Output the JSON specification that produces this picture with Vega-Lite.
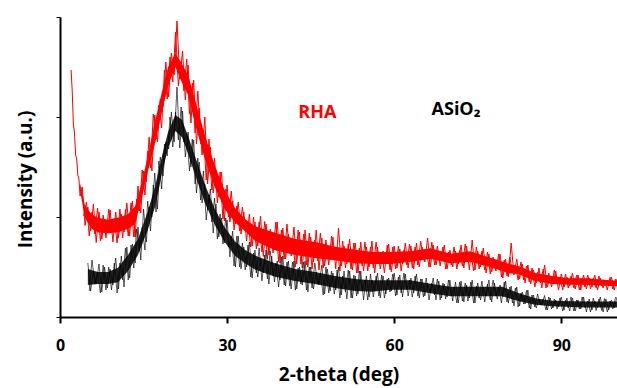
{
  "$schema": "https://vega.github.io/schema/vega-lite/v6.json",
  "width": 557,
  "height": 300,
  "autosize": {"type": "none"},
  "padding": {"left": 60, "top": 17, "right": 0, "bottom": 71},
  "background": "white",
  "config": {"view": {"stroke": null}, "font": "Open Sans"},
  "datasets": {
    "rha": [
      {"x":2.0,"y":2470},{"x":2.2,"y":2250},{"x":2.4,"y":1930},{"x":2.6,"y":1840},{"x":2.8,"y":1620},{"x":3.0,"y":1580},{"x":3.2,"y":1420},{"x":3.4,"y":1380},{"x":3.6,"y":1210},
      {"x":4.0,"y":1300},{"x":4.5,"y":915},{"x":5.0,"y":1100},{"x":5.5,"y":860},{"x":6.0,"y":1130},{"x":6.5,"y":745},{"x":7.0,"y":1050},{"x":7.5,"y":780},{"x":8.0,"y":980},{"x":8.5,"y":840},{"x":9.0,"y":1070},{"x":9.5,"y":750},{"x":10.0,"y":1050},{"x":10.5,"y":790},{"x":11.0,"y":1030},{"x":11.5,"y":850},{"x":12.0,"y":1140},{"x":12.5,"y":810},{"x":13.0,"y":1160},{"x":13.5,"y":800},{"x":14.0,"y":1310},{"x":14.5,"y":1040},{"x":15.0,"y":1460},{"x":15.5,"y":1350},{"x":16.0,"y":1800},{"x":16.5,"y":1460},{"x":17.0,"y":2020},{"x":17.5,"y":1750},{"x":18.0,"y":2180},{"x":18.5,"y":2100},{"x":19.0,"y":2550},{"x":19.5,"y":2200},{"x":20.0,"y":2640},{"x":20.5,"y":2420},{"x":21.0,"y":2960},{"x":21.5,"y":2380},{"x":22.0,"y":2660},{"x":22.5,"y":2170},{"x":23.0,"y":2520},{"x":23.5,"y":1940},{"x":24.0,"y":2370},{"x":24.5,"y":1730},{"x":25.0,"y":2090},{"x":25.5,"y":1620},{"x":26.0,"y":2000},{"x":26.5,"y":1330},{"x":27.0,"y":1700},{"x":27.5,"y":1240},{"x":28.0,"y":1470},{"x":28.5,"y":1200},{"x":29.0,"y":1450},{"x":29.5,"y":960},{"x":30.0,"y":1320},{"x":30.5,"y":950},{"x":31.0,"y":1160},{"x":31.5,"y":930},{"x":32.0,"y":1150},{"x":32.5,"y":830},{"x":33.0,"y":1050},{"x":33.5,"y":760},{"x":34.0,"y":1030},{"x":34.5,"y":710},{"x":35.0,"y":950},{"x":35.5,"y":710},{"x":36.0,"y":1010},{"x":36.5,"y":605},{"x":37.0,"y":930},{"x":37.5,"y":620},{"x":38.0,"y":850},{"x":38.5,"y":670},{"x":39.0,"y":950},{"x":39.5,"y":540},{"x":40.0,"y":890},{"x":40.5,"y":580},{"x":41.0,"y":830},{"x":41.5,"y":610},{"x":42.0,"y":900},{"x":42.5,"y":530},{"x":43.0,"y":850},{"x":43.5,"y":490},{"x":44.0,"y":870},{"x":44.5,"y":500},{"x":45.0,"y":800},{"x":45.5,"y":550},{"x":46.0,"y":870},{"x":46.5,"y":470},{"x":47.0,"y":790},{"x":47.5,"y":510},{"x":48.0,"y":720},{"x":48.5,"y":570},{"x":49.0,"y":800},{"x":49.5,"y":480},{"x":50.0,"y":890},{"x":50.5,"y":510},{"x":51.0,"y":710},{"x":51.5,"y":530},{"x":52.0,"y":780},{"x":52.5,"y":470},{"x":53.0,"y":740},{"x":53.5,"y":440},{"x":54.0,"y":750},{"x":54.5,"y":460},{"x":55.0,"y":700},{"x":55.5,"y":500},{"x":56.0,"y":760},{"x":56.5,"y":440},{"x":57.0,"y":700},{"x":57.5,"y":480},{"x":58.0,"y":660},{"x":58.5,"y":530},{"x":59.0,"y":730},{"x":59.5,"y":450},{"x":60.0,"y":710},{"x":60.5,"y":490},{"x":61.0,"y":680},{"x":61.5,"y":530},{"x":62.0,"y":740},{"x":62.5,"y":490},{"x":63.0,"y":710},{"x":63.5,"y":480},{"x":64.0,"y":740},{"x":64.5,"y":500},{"x":65.0,"y":700},{"x":65.5,"y":550},{"x":66.0,"y":790},{"x":66.5,"y":500},{"x":67.0,"y":720},{"x":67.5,"y":520},{"x":68.0,"y":660},{"x":68.5,"y":560},{"x":69.0,"y":720},{"x":69.5,"y":480},{"x":70.0,"y":670},{"x":70.5,"y":500},{"x":71.0,"y":660},{"x":71.5,"y":530},{"x":72.0,"y":720},{"x":72.5,"y":490},{"x":73.0,"y":710},{"x":73.5,"y":470},{"x":74.0,"y":770},{"x":74.5,"y":470},{"x":75.0,"y":660},{"x":75.5,"y":500},{"x":76.0,"y":690},{"x":76.5,"y":440},{"x":77.0,"y":630},{"x":77.5,"y":450},{"x":78.0,"y":580},{"x":78.5,"y":480},{"x":79.0,"y":630},{"x":79.5,"y":390},{"x":80.0,"y":580},{"x":80.5,"y":400},{"x":81.0,"y":740},{"x":81.5,"y":420},{"x":82.0,"y":580},{"x":82.5,"y":380},{"x":83.0,"y":530},{"x":83.5,"y":340},{"x":84.0,"y":520},{"x":84.5,"y":330},{"x":85.0,"y":470},{"x":85.5,"y":340},{"x":86.0,"y":490},{"x":86.5,"y":290},{"x":87.0,"y":520},{"x":87.5,"y":300},{"x":88.0,"y":410},{"x":88.5,"y":330},{"x":89.0,"y":460},{"x":89.5,"y":270},{"x":90.0,"y":430},{"x":90.5,"y":300},{"x":91.0,"y":400},{"x":91.5,"y":310},{"x":92.0,"y":440},{"x":92.5,"y":280},{"x":93.0,"y":420},{"x":93.5,"y":270},{"x":94.0,"y":420},{"x":94.5,"y":280},{"x":95.0,"y":390},{"x":95.5,"y":300},{"x":96.0,"y":420},{"x":96.5,"y":270},{"x":97.0,"y":390},{"x":97.5,"y":290},{"x":98.0,"y":370},{"x":98.5,"y":310},{"x":99.0,"y":400},{"x":99.5,"y":270},{"x":100.0,"y":380}
    ],
    "rha2": [
      {"x":4.25,"y":1010},{"x":4.75,"y":1150},{"x":5.25,"y":810},{"x":5.75,"y":1050},{"x":6.25,"y":830},{"x":6.75,"y":1090},{"x":7.25,"y":760},{"x":7.75,"y":1020},{"x":8.25,"y":790},{"x":8.75,"y":1080},{"x":9.25,"y":840},{"x":9.75,"y":985},{"x":10.25,"y":740},{"x":10.75,"y":1080},{"x":11.25,"y":790},{"x":11.75,"y":1075},{"x":12.25,"y":810},{"x":12.75,"y":1140},{"x":13.25,"y":800},{"x":13.75,"y":1180},{"x":14.25,"y":1060},{"x":14.75,"y":1470},{"x":15.25,"y":1220},{"x":15.75,"y":1660},{"x":16.25,"y":1490},{"x":16.75,"y":2030},{"x":17.25,"y":1780},{"x":17.75,"y":2120},{"x":18.25,"y":1890},{"x":18.75,"y":2470},{"x":19.25,"y":2180},{"x":19.75,"y":2600},{"x":20.25,"y":2350},{"x":20.75,"y":2850},{"x":21.25,"y":2310},{"x":21.75,"y":2560},{"x":22.25,"y":2260},{"x":22.75,"y":2580},{"x":23.25,"y":2030},{"x":23.75,"y":2340},{"x":24.25,"y":1840},{"x":24.75,"y":2260},{"x":25.25,"y":1730},{"x":25.75,"y":1870},{"x":26.25,"y":1370},{"x":26.75,"y":1780},{"x":27.25,"y":1270},{"x":27.75,"y":1590},{"x":28.25,"y":1140},{"x":28.75,"y":1450},{"x":29.25,"y":980},{"x":29.75,"y":1280},{"x":30.25,"y":1000},{"x":30.75,"y":1260},{"x":31.25,"y":870},{"x":31.75,"y":1110},{"x":32.25,"y":860},{"x":32.75,"y":1100},{"x":33.25,"y":860},{"x":33.75,"y":960},{"x":34.25,"y":700},{"x":34.75,"y":1000},{"x":35.25,"y":680},{"x":35.75,"y":950},{"x":36.25,"y":650},{"x":36.75,"y":955},{"x":37.25,"y":580},{"x":37.75,"y":880},{"x":38.25,"y":640},{"x":38.75,"y":950},{"x":39.25,"y":550},{"x":39.75,"y":870},{"x":40.25,"y":580},{"x":40.75,"y":930},{"x":41.25,"y":630},{"x":41.75,"y":790},{"x":42.25,"y":500},{"x":42.75,"y":870},{"x":43.25,"y":530},{"x":43.75,"y":830},{"x":44.25,"y":520},{"x":44.75,"y":840},{"x":45.25,"y":480},{"x":45.75,"y":770},{"x":46.25,"y":560},{"x":46.75,"y":840},{"x":47.25,"y":490},{"x":47.75,"y":770},{"x":48.25,"y":520},{"x":48.75,"y":810},{"x":49.25,"y":570},{"x":49.75,"y":700},{"x":50.25,"y":460},{"x":50.75,"y":760},{"x":51.25,"y":490},{"x":51.75,"y":730},{"x":52.25,"y":480},{"x":52.75,"y":740},{"x":53.25,"y":440},{"x":53.75,"y":690},{"x":54.25,"y":510},{"x":54.75,"y":750},{"x":55.25,"y":460},{"x":55.75,"y":700},{"x":56.25,"y":490},{"x":56.75,"y":750},{"x":57.25,"y":530},{"x":57.75,"y":650},{"x":58.25,"y":440},{"x":58.75,"y":720},{"x":59.25,"y":470},{"x":59.75,"y":700},{"x":60.25,"y":480},{"x":60.75,"y":710},{"x":61.25,"y":460},{"x":61.75,"y":670},{"x":62.25,"y":520},{"x":62.75,"y":730},{"x":63.25,"y":490},{"x":63.75,"y":700},{"x":64.25,"y":520},{"x":64.75,"y":760},{"x":65.25,"y":570},{"x":65.75,"y":680},{"x":66.25,"y":500},{"x":66.75,"y":750},{"x":67.25,"y":520},{"x":67.75,"y":710},{"x":68.25,"y":510},{"x":68.75,"y":700},{"x":69.25,"y":480},{"x":69.75,"y":650},{"x":70.25,"y":520},{"x":70.75,"y":700},{"x":71.25,"y":480},{"x":71.75,"y":670},{"x":72.25,"y":510},{"x":72.75,"y":730},{"x":73.25,"y":550},{"x":73.75,"y":650},{"x":74.25,"y":460},{"x":74.75,"y":700},{"x":75.25,"y":480},{"x":75.75,"y":660},{"x":76.25,"y":470},{"x":76.75,"y":650},{"x":77.25,"y":430},{"x":77.75,"y":600},{"x":78.25,"y":460},{"x":78.75,"y":630},{"x":79.25,"y":400},{"x":79.75,"y":570},{"x":80.25,"y":410},{"x":80.75,"y":600},{"x":81.25,"y":440},{"x":81.75,"y":520},{"x":82.25,"y":370},{"x":82.75,"y":550},{"x":83.25,"y":370},{"x":83.75,"y":510},{"x":84.25,"y":350},{"x":84.75,"y":490},{"x":85.25,"y":300},{"x":85.75,"y":450},{"x":86.25,"y":340},{"x":86.75,"y":480},{"x":87.25,"y":290},{"x":87.75,"y":440},{"x":88.25,"y":300},{"x":88.75,"y":470},{"x":89.25,"y":330},{"x":89.75,"y":400},{"x":90.25,"y":270},{"x":90.75,"y":430},{"x":91.25,"y":290},{"x":91.75,"y":410},{"x":92.25,"y":290},{"x":92.75,"y":420},{"x":93.25,"y":270},{"x":93.75,"y":390},{"x":94.25,"y":300},{"x":94.75,"y":420},{"x":95.25,"y":280},{"x":95.75,"y":390},{"x":96.25,"y":290},{"x":96.75,"y":410},{"x":97.25,"y":310},{"x":97.75,"y":370},{"x":98.25,"y":270},{"x":98.75,"y":395},{"x":99.25,"y":280},{"x":99.75,"y":380}
    ],
    "rhaBand": [
      {"x":3.6,"lo":1260,"hi":1340},{"x":4.5,"lo":990,"hi":1110},{"x":5.7,"lo":882,"hi":1028},{"x":6.8,"lo":847,"hi":993},{"x":8.6,"lo":838,"hi":972},{"x":10.4,"lo":847,"hi":993},{"x":12.2,"lo":882,"hi":1028},{"x":13.5,"lo":933,"hi":1107},{"x":14.7,"lo":1190,"hi":1350},{"x":15.8,"lo":1460,"hi":1620},{"x":17.1,"lo":1742,"hi":1968},{"x":18.3,"lo":2050,"hi":2250},{"x":19.4,"lo":2312,"hi":2498},{"x":20.7,"lo":2503,"hi":2637},{"x":21.9,"lo":2342,"hi":2528},{"x":23.0,"lo":2220,"hi":2420},{"x":24.3,"lo":1920,"hi":2160},{"x":26.0,"lo":1580,"hi":1820},{"x":27.8,"lo":1298,"hi":1512},{"x":29.6,"lo":1077,"hi":1263},{"x":31.4,"lo":947,"hi":1093},{"x":33.2,"lo":860,"hi":980},{"x":35.0,"lo":762,"hi":908},{"x":38.6,"lo":668,"hi":842},{"x":42.2,"lo":620,"hi":780},{"x":45.8,"lo":590,"hi":750},{"x":49.4,"lo":568,"hi":702},{"x":53.0,"lo":538,"hi":672},{"x":56.0,"lo":530,"hi":650},{"x":59.3,"lo":530,"hi":650},{"x":62.9,"lo":552,"hi":658},{"x":66.5,"lo":582,"hi":688},{"x":70.1,"lo":538,"hi":632},{"x":73.6,"lo":552,"hi":658},{"x":76.7,"lo":508,"hi":602},{"x":78.7,"lo":473,"hi":567},{"x":80.5,"lo":438,"hi":532},{"x":82.3,"lo":430,"hi":510},{"x":85.3,"lo":360,"hi":440},{"x":88.4,"lo":330,"hi":410},{"x":91.3,"lo":322,"hi":388},{"x":94.3,"lo":322,"hi":388},{"x":100.0,"lo":308,"hi":362}
    ],
    "asio2": [
      {"x":5.0,"y":540},{"x":5.5,"y":260},{"x":6.0,"y":460},{"x":6.5,"y":330},{"x":7.0,"y":530},{"x":7.5,"y":250},{"x":8.0,"y":500},{"x":8.5,"y":290},{"x":9.0,"y":480},{"x":9.5,"y":320},{"x":10.0,"y":590},{"x":10.5,"y":280},{"x":11.0,"y":610},{"x":11.5,"y":300},{"x":12.0,"y":700},{"x":12.5,"y":390},{"x":13.0,"y":730},{"x":13.5,"y":540},{"x":14.0,"y":900},{"x":14.5,"y":570},{"x":15.0,"y":1080},{"x":15.5,"y":750},{"x":16.0,"y":1100},{"x":16.5,"y":1000},{"x":17.0,"y":1440},{"x":17.5,"y":1080},{"x":18.0,"y":1600},{"x":18.5,"y":1410},{"x":19.0,"y":1750},{"x":19.5,"y":1680},{"x":20.0,"y":2050},{"x":20.5,"y":1750},{"x":21.0,"y":2300},{"x":21.5,"y":1690},{"x":22.0,"y":2060},{"x":22.5,"y":1600},{"x":23.0,"y":1850},{"x":23.5,"y":1500},{"x":24.0,"y":1770},{"x":24.5,"y":1240},{"x":25.0,"y":1550},{"x":25.5,"y":1140},{"x":26.0,"y":1330},{"x":26.5,"y":1070},{"x":27.0,"y":1280},{"x":27.5,"y":840},{"x":28.0,"y":1130},{"x":28.5,"y":800},{"x":29.0,"y":990},{"x":29.5,"y":740},{"x":30.0,"y":970},{"x":30.5,"y":600},{"x":31.0,"y":860},{"x":31.5,"y":500},{"x":32.0,"y":810},{"x":32.5,"y":480},{"x":33.0,"y":700},{"x":33.5,"y":500},{"x":34.0,"y":750},{"x":34.5,"y":390},{"x":35.0,"y":670},{"x":35.5,"y":400},{"x":36.0,"y":590},{"x":36.5,"y":440},{"x":37.0,"y":670},{"x":37.5,"y":330},{"x":38.0,"y":610},{"x":38.5,"y":350},{"x":39.0,"y":560},{"x":39.5,"y":370},{"x":40.0,"y":610},{"x":40.5,"y":310},{"x":41.0,"y":560},{"x":41.5,"y":280},{"x":42.0,"y":560},{"x":42.5,"y":280},{"x":43.0,"y":500},{"x":43.5,"y":320},{"x":44.0,"y":560},{"x":44.5,"y":250},{"x":45.0,"y":500},{"x":45.5,"y":280},{"x":46.0,"y":450},{"x":46.5,"y":320},{"x":47.0,"y":520},{"x":47.5,"y":230},{"x":48.0,"y":480},{"x":48.5,"y":260},{"x":49.0,"y":440},{"x":49.5,"y":270},{"x":50.0,"y":500},{"x":50.5,"y":220},{"x":51.0,"y":460},{"x":51.5,"y":180},{"x":52.0,"y":460},{"x":52.5,"y":190},{"x":53.0,"y":410},{"x":53.5,"y":230},{"x":54.0,"y":460},{"x":54.5,"y":170},{"x":55.0,"y":410},{"x":55.5,"y":200},{"x":56.0,"y":370},{"x":56.5,"y":260},{"x":57.0,"y":440},{"x":57.5,"y":190},{"x":58.0,"y":410},{"x":58.5,"y":230},{"x":59.0,"y":390},{"x":59.5,"y":260},{"x":60.0,"y":440},{"x":60.5,"y":220},{"x":61.0,"y":420},{"x":61.5,"y":200},{"x":62.0,"y":430},{"x":62.5,"y":210},{"x":63.0,"y":390},{"x":63.5,"y":240},{"x":64.0,"y":430},{"x":64.5,"y":190},{"x":65.0,"y":380},{"x":65.5,"y":210},{"x":66.0,"y":340},{"x":66.5,"y":240},{"x":67.0,"y":390},{"x":67.5,"y":170},{"x":68.0,"y":360},{"x":68.5,"y":190},{"x":69.0,"y":330},{"x":69.5,"y":200},{"x":70.0,"y":370},{"x":70.5,"y":160},{"x":71.0,"y":350},{"x":71.5,"y":140},{"x":72.0,"y":360},{"x":72.5,"y":150},{"x":73.0,"y":320},{"x":73.5,"y":190},{"x":74.0,"y":370},{"x":74.5,"y":140},{"x":75.0,"y":340},{"x":75.5,"y":170},{"x":76.0,"y":300},{"x":76.5,"y":210},{"x":77.0,"y":370},{"x":77.5,"y":150},{"x":78.0,"y":340},{"x":78.5,"y":180},{"x":79.0,"y":320},{"x":79.5,"y":200},{"x":80.0,"y":360},{"x":80.5,"y":140},{"x":81.0,"y":310},{"x":81.5,"y":110},{"x":82.0,"y":300},{"x":82.5,"y":110},{"x":83.0,"y":250},{"x":83.5,"y":130},{"x":84.0,"y":270},{"x":84.5,"y":80},{"x":85.0,"y":220},{"x":85.5,"y":90},{"x":86.0,"y":180},{"x":86.5,"y":120},{"x":87.0,"y":215},{"x":87.5,"y":70},{"x":88.0,"y":190},{"x":88.5,"y":90},{"x":89.0,"y":170},{"x":89.5,"y":100},{"x":90.0,"y":200},{"x":90.5,"y":70},{"x":91.0,"y":190},{"x":91.5,"y":60},{"x":92.0,"y":190},{"x":92.5,"y":60},{"x":93.0,"y":170},{"x":93.5,"y":80},{"x":94.0,"y":200},{"x":94.5,"y":50},{"x":95.0,"y":180},{"x":95.5,"y":70},{"x":96.0,"y":160},{"x":96.5,"y":95},{"x":97.0,"y":200},{"x":97.5,"y":50},{"x":98.0,"y":180},{"x":98.5,"y":70},{"x":99.0,"y":170},{"x":99.5,"y":90},{"x":100.0,"y":200}
    ],
    "asio2b": [
      {"x":5.25,"y":260},{"x":5.75,"y":570},{"x":6.25,"y":330},{"x":6.75,"y":450},{"x":7.25,"y":240},{"x":7.75,"y":520},{"x":8.25,"y":270},{"x":8.75,"y":500},{"x":9.25,"y":270},{"x":9.75,"y":540},{"x":10.25,"y":240},{"x":10.75,"y":540},{"x":11.25,"y":370},{"x":11.75,"y":690},{"x":12.25,"y":370},{"x":12.75,"y":720},{"x":13.25,"y":490},{"x":13.75,"y":880},{"x":14.25,"y":660},{"x":14.75,"y":900},{"x":15.25,"y":670},{"x":15.75,"y":1160},{"x":16.25,"y":860},{"x":16.75,"y":1320},{"x":17.25,"y":1050},{"x":17.75,"y":1560},{"x":18.25,"y":1280},{"x":18.75,"y":1730},{"x":19.25,"y":1610},{"x":19.75,"y":2000},{"x":20.25,"y":1700},{"x":20.75,"y":2050},{"x":21.25,"y":1770},{"x":21.75,"y":2100},{"x":22.25,"y":1750},{"x":22.75,"y":1840},{"x":23.25,"y":1460},{"x":23.75,"y":1780},{"x":24.25,"y":1330},{"x":24.75,"y":1590},{"x":25.25,"y":1170},{"x":25.75,"y":1460},{"x":26.25,"y":970},{"x":26.75,"y":1220},{"x":27.25,"y":950},{"x":27.75,"y":1190},{"x":28.25,"y":780},{"x":28.75,"y":1030},{"x":29.25,"y":730},{"x":29.75,"y":990},{"x":30.25,"y":700},{"x":30.75,"y":810},{"x":31.25,"y":510},{"x":31.75,"y":810},{"x":32.25,"y":500},{"x":32.75,"y":740},{"x":33.25,"y":470},{"x":33.75,"y":720},{"x":34.25,"y":400},{"x":34.75,"y":640},{"x":35.25,"y":440},{"x":35.75,"y":690},{"x":36.25,"y":360},{"x":36.75,"y":620},{"x":37.25,"y":380},{"x":37.75,"y":660},{"x":38.25,"y":410},{"x":38.75,"y":540},{"x":39.25,"y":300},{"x":39.75,"y":600},{"x":40.25,"y":320},{"x":40.75,"y":550},{"x":41.25,"y":310},{"x":41.75,"y":550},{"x":42.25,"y":270},{"x":42.75,"y":490},{"x":43.25,"y":330},{"x":43.75,"y":550},{"x":44.25,"y":270},{"x":44.75,"y":500},{"x":45.25,"y":290},{"x":45.75,"y":540},{"x":46.25,"y":330},{"x":46.75,"y":440},{"x":47.25,"y":220},{"x":47.75,"y":500},{"x":48.25,"y":240},{"x":48.75,"y":460},{"x":49.25,"y":230},{"x":49.75,"y":470},{"x":50.25,"y":190},{"x":50.75,"y":410},{"x":51.25,"y":250},{"x":51.75,"y":470},{"x":52.25,"y":190},{"x":52.75,"y":420},{"x":53.25,"y":210},{"x":53.75,"y":460},{"x":54.25,"y":260},{"x":54.75,"y":370},{"x":55.25,"y":170},{"x":55.75,"y":430},{"x":56.25,"y":200},{"x":56.75,"y":410},{"x":57.25,"y":210},{"x":57.75,"y":420},{"x":58.25,"y":190},{"x":58.75,"y":380},{"x":59.25,"y":250},{"x":59.75,"y":430},{"x":60.25,"y":210},{"x":60.75,"y":400},{"x":61.25,"y":240},{"x":61.75,"y":440},{"x":62.25,"y":270},{"x":62.75,"y":370},{"x":63.25,"y":200},{"x":63.75,"y":410},{"x":64.25,"y":210},{"x":64.75,"y":380},{"x":65.25,"y":200},{"x":65.75,"y":390},{"x":66.25,"y":170},{"x":66.75,"y":340},{"x":67.25,"y":220},{"x":67.75,"y":380},{"x":68.25,"y":170},{"x":68.75,"y":340},{"x":69.25,"y":180},{"x":69.75,"y":370},{"x":70.25,"y":210},{"x":70.75,"y":300},{"x":71.25,"y":140},{"x":71.75,"y":350},{"x":72.25,"y":160},{"x":72.75,"y":340},{"x":73.25,"y":160},{"x":73.75,"y":350},{"x":74.25,"y":140},{"x":74.75,"y":310},{"x":75.25,"y":190},{"x":75.75,"y":360},{"x":76.25,"y":150},{"x":76.75,"y":330},{"x":77.25,"y":170},{"x":77.75,"y":370},{"x":78.25,"y":210},{"x":78.75,"y":300},{"x":79.25,"y":140},{"x":79.75,"y":350},{"x":80.25,"y":150},{"x":80.75,"y":300},{"x":81.25,"y":140},{"x":81.75,"y":290},{"x":82.25,"y":100},{"x":82.75,"y":240},{"x":83.25,"y":130},{"x":83.75,"y":265},{"x":84.25,"y":90},{"x":84.75,"y":220},{"x":85.25,"y":100},{"x":85.75,"y":230},{"x":86.25,"y":120},{"x":86.75,"y":180},{"x":87.25,"y":70},{"x":87.75,"y":200},{"x":88.25,"y":80},{"x":88.75,"y":180},{"x":89.25,"y":80},{"x":89.75,"y":190},{"x":90.25,"y":60},{"x":90.75,"y":170},{"x":91.25,"y":90},{"x":91.75,"y":200},{"x":92.25,"y":60},{"x":92.75,"y":170},{"x":93.25,"y":80},{"x":93.75,"y":200},{"x":94.25,"y":95},{"x":94.75,"y":160},{"x":95.25,"y":50},{"x":95.75,"y":190},{"x":96.25,"y":65},{"x":96.75,"y":180},{"x":97.25,"y":65},{"x":97.75,"y":185},{"x":98.25,"y":50},{"x":98.75,"y":160},{"x":99.25,"y":80},{"x":99.75,"y":200}
    ],
    "asio2Band": [
      {"x":5.0,"lo":320,"hi":480},{"x":6.8,"lo":330,"hi":450},{"x":8.6,"lo":330,"hi":450},{"x":10.4,"lo":347,"hi":493},{"x":12.2,"lo":460,"hi":620},{"x":14.0,"lo":620,"hi":780},{"x":15.8,"lo":877,"hi":1063},{"x":17.1,"lo":1107,"hi":1313},{"x":18.3,"lo":1433,"hi":1607},{"x":19.4,"lo":1690,"hi":1850},{"x":20.7,"lo":1860,"hi":2020},{"x":21.9,"lo":1798,"hi":1972},{"x":23.0,"lo":1633,"hi":1807},{"x":24.3,"lo":1412,"hi":1598},{"x":26.0,"lo":1142,"hi":1328},{"x":27.8,"lo":920,"hi":1080},{"x":29.6,"lo":747,"hi":893},{"x":31.4,"lo":612,"hi":758},{"x":33.2,"lo":538,"hi":672},{"x":35.0,"lo":475,"hi":615},{"x":38.6,"lo":403,"hi":537},{"x":42.2,"lo":360,"hi":480},{"x":45.8,"lo":330,"hi":450},{"x":49.4,"lo":290,"hi":410},{"x":53.0,"lo":260,"hi":380},{"x":56.0,"lo":253,"hi":367},{"x":59.3,"lo":273,"hi":367},{"x":62.9,"lo":273,"hi":367},{"x":66.5,"lo":238,"hi":332},{"x":70.1,"lo":208,"hi":302},{"x":79.4,"lo":208,"hi":302},{"x":82.3,"lo":160,"hi":240},{"x":85.3,"lo":122,"hi":188},{"x":88.4,"lo":108,"hi":162},{"x":94.3,"lo":95,"hi":155},{"x":100.0,"lo":95,"hi":155}
    ]
  },
  "layer": [
    {
      "data": {"name": "rhaBand"},
      "mark": {"type": "area", "color": "#ff0000", "opacity": 1, "clip": true},
      "encoding": {
        "x": {
          "field": "x", "type": "quantitative",
          "scale": {"domain": [0, 100], "nice": false},
          "axis": {
            "values": [0, 30, 60, 90], "title": "2-theta (deg)", "grid": false,
            "domainColor": "#000", "domainWidth": 2, "tickColor": "#000", "tickWidth": 2, "tickSize": 6,
            "labelFont": "Open Sans", "labelFontWeight": "bold", "labelFontSize": 16, "labelColor": "#000", "labelPadding": 14, "labelFlush": false,
            "titleFont": "Open Sans", "titleFontWeight": "bold", "titleFontSize": 19, "titleColor": "#000", "titlePadding": 12
          }
        },
        "y": {
          "field": "lo", "type": "quantitative",
          "scale": {"domain": [0, 3000], "nice": false},
          "axis": {
            "values": [0, 1000, 2000, 3000], "labels": false, "grid": false, "title": "Intensity (a.u.)", "titleY": 162,
            "domainColor": "#000", "domainWidth": 2, "tickColor": "#000", "tickWidth": 1, "tickSize": 4,
            "titleFont": "Open Sans", "titleFontWeight": "bold", "titleFontSize": 19, "titleColor": "#000", "titlePadding": 20
          }
        },
        "y2": {"field": "hi"}
      }
    },
    {
      "data": {"name": "rha"},
      "mark": {"type": "line", "color": "#ff0000", "strokeWidth": 1, "clip": true},
      "encoding": {
        "x": {"field": "x", "type": "quantitative"},
        "y": {"field": "y", "type": "quantitative"}
      }
    },
    {
      "data": {"name": "rha2"},
      "mark": {"type": "line", "color": "#ff0000", "strokeWidth": 1, "clip": true},
      "encoding": {
        "x": {"field": "x", "type": "quantitative"},
        "y": {"field": "y", "type": "quantitative"}
      }
    },
    {
      "data": {"name": "asio2Band"},
      "mark": {"type": "area", "color": "#000000", "opacity": 0.85, "clip": true},
      "encoding": {
        "x": {"field": "x", "type": "quantitative"},
        "y": {"field": "lo", "type": "quantitative"},
        "y2": {"field": "hi"}
      }
    },
    {
      "data": {"name": "asio2"},
      "mark": {"type": "line", "color": "#000000", "strokeWidth": 0.8, "opacity": 0.8, "clip": true},
      "encoding": {
        "x": {"field": "x", "type": "quantitative"},
        "y": {"field": "y", "type": "quantitative"}
      }
    },
    {
      "data": {"name": "asio2b"},
      "mark": {"type": "line", "color": "#000000", "strokeWidth": 0.8, "opacity": 0.8, "clip": true},
      "encoding": {
        "x": {"field": "x", "type": "quantitative"},
        "y": {"field": "y", "type": "quantitative"}
      }
    },
    {
      "data": {"values": [{"label": "RHA"}]},
      "mark": {"type": "text", "color": "#ff0000", "font": "Open Sans", "fontWeight": "bold", "fontSize": 18, "align": "center", "baseline": "middle"},
      "encoding": {
        "x": {"datum": 46.2, "type": "quantitative"},
        "y": {"datum": 2040, "type": "quantitative"},
        "text": {"field": "label"}
      }
    },
    {
      "data": {"values": [{"label": "ASiO₂"}]},
      "mark": {"type": "text", "color": "#000000", "font": "Open Sans", "fontWeight": "bold", "fontSize": 18, "align": "center", "baseline": "middle"},
      "encoding": {
        "x": {"datum": 71.1, "type": "quantitative"},
        "y": {"datum": 2070, "type": "quantitative"},
        "text": {"field": "label"}
      }
    }
  ]
}
